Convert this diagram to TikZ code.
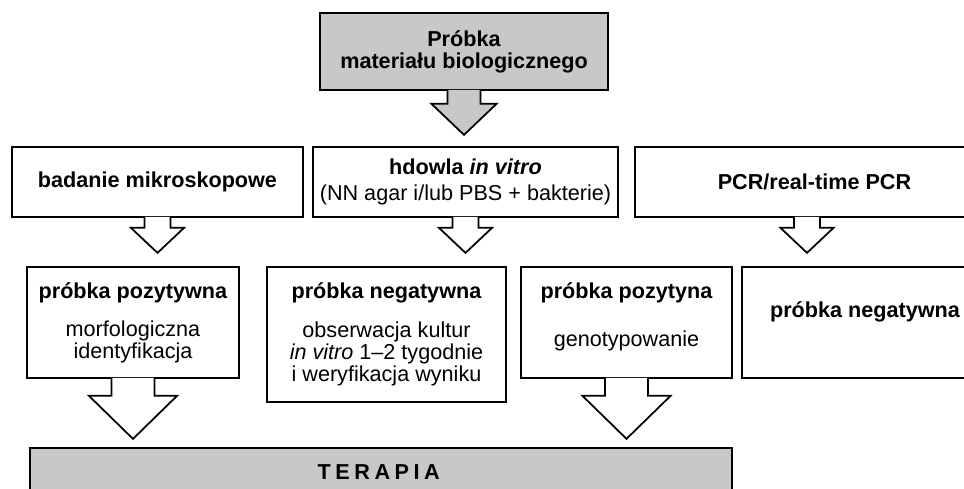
\documentclass[tikz,border=0pt]{standalone}
\usepackage{fontspec}
\setmainfont{Liberation Sans}

\definecolor{szary}{HTML}{C8C8C8}

% strzalka blokowa: #1 punkt startu, #2 wypelnienie,
% #3 pol szer. trzonu, #4 dl. trzonu, #5 pol szer. grotu, #6 dl. grotu
\newcommand{\blokstrz}[6]{%
  \draw[fill=#2] ([shift={(-#3,-1)}]#1) -- ++(0,#4+1) -- ++(#3-#5,0)
    -- ++(#5,#6) -- ++(#5,-#6) -- ++(#3-#5,0) -- ++(0,-#4-1);
}

\begin{document}
\begin{tikzpicture}[
    x=0.2mm, y=-0.2mm,
    line width=0.35mm,
    every node/.style={font=\fontsize{12.3}{12.6}\selectfont},
    wbox/.style={
        draw, fill=white, inner sep=0pt,
        align=center
    },
    gbox/.style={
        draw, fill=szary, inner sep=0pt,
        align=center
    }
]
\useasboundingbox (0,0) rectangle (964,489);

% ----------------------------------------------------------
% Gora: probka wejsciowa
% ----------------------------------------------------------
\node[gbox, minimum width=57.6mm, minimum height=15.4mm] (probka) at (464, 51.5)
    {\textbf{Próbka}\\\textbf{materiału biologicznego}};

% ----------------------------------------------------------
% Rzad 2: trzy metody badania
% ----------------------------------------------------------
\node[wbox, minimum width=58.2mm, minimum height=14mm] (mikro) at (157.5, 182)
    {\textbf{badanie mikroskopowe}};
\node[wbox, minimum width=61mm, minimum height=14mm] (hodowla) at (465.5, 182)
    {\textbf{hdowla \textit{in vitro}}\\[0.8mm](NN agar i/lub PBS + bakterie)};
\node[wbox, minimum width=71.8mm, minimum height=14mm] (pcr) at (814.5, 182)
    {\textbf{PCR/real-time PCR}};

% ----------------------------------------------------------
% Rzad 3: wyniki
% ----------------------------------------------------------
\node[wbox, minimum width=42.4mm, minimum height=22.2mm] (pozmikro) at (133, 322.5)
    {\textbf{próbka pozytywna}\\[3.2mm]morfologiczna\\identyfikacja};
\node[wbox, minimum width=47.8mm, minimum height=27mm] (neghod) at (386.5, 334.5)
    {\textbf{próbka negatywna}\\[3.2mm]obserwacja kultur\\\textit{in vitro} 1--2 tygodnie\\i weryfikacja wyniku};
\node[wbox, minimum width=42.2mm, minimum height=22.2mm, text depth=3.3mm] (pozpcr) at (626.5, 322.5)
    {\textbf{próbka pozytyna}\\[5.2mm]genotypowanie};
\node[wbox, minimum width=49.2mm, minimum height=22.2mm, text depth=5mm] (negpcr) at (865, 322.5)
    {\textbf{próbka negatywna}};

% Dol: terapia
\node[gbox, minimum width=140.4mm, minimum height=9.8mm] (terapia) at (381, 472.5)
    {\textbf{\addfontfeature{LetterSpace=21}TERAPIA}};

% Strzalki blokowe
\coordinate (pcrwyj) at ([xshift=-1.5mm]pcr.south);
\blokstrz{probka.south}{szary}{16.5}{13}{32.5}{31}
\blokstrz{mikro.south}{white}{13}{10}{26.5}{25}
\blokstrz{hodowla.south}{white}{13}{10}{26.5}{25}
\blokstrz{pcrwyj}{white}{13}{10}{26.5}{25}
\blokstrz{pozmikro.south}{white}{21.5}{17}{44}{43}
\blokstrz{pozpcr.south}{white}{21.5}{17}{44}{43}

\end{tikzpicture}
\end{document}
